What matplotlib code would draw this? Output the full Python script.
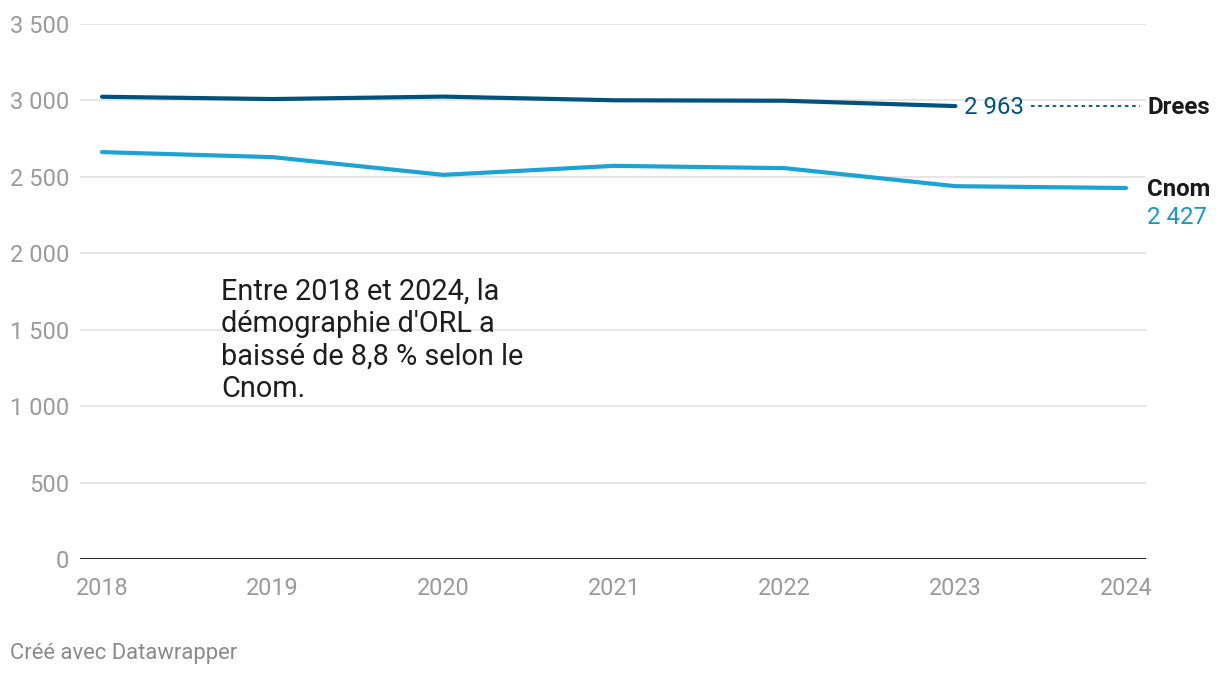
import matplotlib
matplotlib.use("Agg")
import matplotlib.pyplot as plt

plt.rcParams['font.family'] = ['Roboto', 'DejaVu Sans']

years = [2018, 2019, 2020, 2021, 2022, 2023, 2024]
drees_years = [2018, 2019, 2020, 2021, 2022, 2023]
drees = [3024, 3009, 3025, 3001, 2998, 2963]
cnom = [2662, 2629, 2513, 2572, 2557, 2439, 2427]
yticks = [0, 500, 1000, 1500, 2000, 2500, 3000, 3500]
ytick_labels = ["0", "500", "1 000", "1 500", "2 000", "2 500", "3 000", "3 500"]

W, H = 1220, 676
fig = plt.figure(figsize=(W / 100, H / 100), dpi=100)
ax = fig.add_axes([80 / W, (H - 559) / H, (1146 - 80) / W, (559 - 24) / H])

c_drees = "#00527c"
c_cnom = "#1da3d3"

x0 = 2018 - 22 / 170.67
x1 = 2024 + 20 / 170.67
ax.set_xlim(x0, x1)
ax.set_ylim(0, 3500)

for y in yticks[1:]:
    ax.axhline(y, color="#e2e2e2", lw=1.2, zorder=0)
ax.axhline(0, color="#111111", lw=2, zorder=3)

ax.plot(years, cnom, color=c_cnom, lw=3, solid_capstyle="round", zorder=4)
ax.plot(drees_years, drees, color=c_drees, lw=3, solid_capstyle="round", zorder=4)

for s in ax.spines.values():
    s.set_visible(False)
ax.set_yticks(yticks)
ax.set_yticklabels(ytick_labels)
ax.set_xticks(years)
ax.set_xticklabels([str(y) for y in years])
ax.tick_params(axis="both", length=0, labelcolor="#9a9a9a")
ax.tick_params(axis="y", pad=8, labelsize=17)
ax.tick_params(axis="x", pad=13, labelsize=16.8)

# end labels
fs = 17.3
ax.text(2023 + 0.05, drees[-1] - 10, "2 963", color=c_drees, fontsize=fs,
        va="center", ha="left", zorder=5)
ax.plot([2023 + 0.445, 2024 + 0.08], [drees[-1], drees[-1]], color=c_drees,
        lw=1.3, ls=(0, (2, 2)), zorder=4, clip_on=False)
ax.text(2024 + 0.125, drees[-1] - 10, "Drees", color="#1a1a1a", fontsize=fs,
        fontweight="bold", va="center", ha="left")
ax.text(2024 + 0.125, 2427 - 10, "Cnom", color="#1a1a1a", fontsize=fs,
        fontweight="bold", va="center", ha="left")
ax.text(2024 + 0.125, 2427 - 190, "2 427", color="#1896c4", fontsize=fs,
        va="center", ha="left")

fig.text(221 / W, 1 - 278 / H,
         "Entre 2018 et 2024, la\ndémographie d'ORL a\nbaissé de 8,8 % selon le\nCnom.",
         fontsize=20.8, color="#1d1d1d", va="top", ha="left", linespacing=1.2)

fig.text(10 / W, 1 - 653 / H, "Créé avec Datawrapper", fontsize=15.8,
         color="#8a8a8a", va="center", ha="left")

fig.savefig("out.png", dpi=100, facecolor="white")
